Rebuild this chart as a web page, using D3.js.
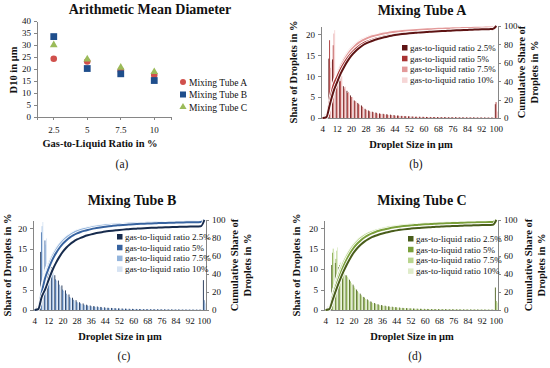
<!DOCTYPE html>
<html>
<head>
<meta charset="utf-8">
<script src="https://cdn.jsdelivr.net/npm/d3@7"></script>
<style>
  body { margin: 0; background: #fff; }
  svg { display: block; font-family: 'Liberation Serif', 'DejaVu Serif', serif; }
  .axis path, .axis line { stroke: #868686; shape-rendering: crispEdges; }
  .axis text { fill: #111; font-size: 9px; font-family: 'Liberation Serif', serif; }
</style>
</head>
<body>
<div id="chart"></div>
<script>
// ---- panel (a): arithmetic mean diameter ----
const ratios = ['2.5', '5', '7.5', '10'];
const d10TubeA = [24.3, 23.1, 19.4, 17.5];
const d10TubeB = [33.5, 20.2, 18.0, 15.2];
const d10TubeC = [30.0, 24.1, 20.6, 18.8];
const d10Ticks = [0, 5, 10, 15, 20, 25, 30, 35, 40];
const tubeNames = ['Mixing Tube A', 'Mixing Tube B', 'Mixing Tube C'];

// ---- panels (b)-(d): droplet size distributions ----
const sizeBins = [4, 6, 8, 10, 12, 14, 16, 18, 20, 22, 24, 26, 28, 30, 32, 34, 36, 38, 40, 42, 44, 46, 48, 50, 52,
  54, 56, 58, 60, 62, 64, 66, 68, 70, 72, 74, 76, 78, 80, 82, 84, 86, 88, 90, 92, 94, 96, 98, 100];
const sizeTicks = [4, 12, 20, 28, 36, 44, 52, 60, 68, 76, 84, 92, 100];
const shareTicks = [0, 5, 10, 15, 20];
const cumTicks = [0, 20, 40, 60, 80, 100];
const ratioLabels = ['gas-to-liquid ratio 2.5%', 'gas-to-liquid ratio 5%', 'gas-to-liquid ratio 7.5%', 'gas-to-liquid ratio 10%'];

const tubeA25 = [0, 0.8, 14.2, 14.0, 10.0, 9.5, 7.6, 6.5, 5.4, 4.2, 3.6, 3.0, 2.2, 1.8, 1.5, 1.3, 1.1, 1.0, 0.9, 0.8, 0.7, 0.6, 0.5, 0.45, 0.4,
  0.35, 0.3, 0.3, 0.28, 0.25, 0.25, 0.24, 0.23, 0.22, 0.21, 0.2, 0.2, 0.19, 0.18, 0.17, 0.16, 0.15, 0.15, 0.14, 0.13, 0.12, 0.12, 0.11, 3.3];
const tubeA5 = [0, 0.8, 18.6, 17.4, 9.0, 8.8, 7.0, 6.0, 5.0, 4.0, 3.3, 2.7, 2.0, 1.6, 1.4, 1.2, 1.0, 0.9, 0.8, 0.7, 0.6, 0.55, 0.5, 0.42, 0.38,
  0.33, 0.3, 0.28, 0.26, 0.24, 0.22, 0.21, 0.2, 0.19, 0.18, 0.17, 0.16, 0.15, 0.14, 0.13, 0.12, 0.12, 0.11, 0.1, 0.1, 0.1, 0.09, 0.09, 3.8];
const tubeA75 = [0, 1.0, 12.0, 20.2, 11.5, 10.3, 7.4, 6.2, 5.0, 4.0, 3.2, 2.5, 1.9, 1.5, 1.2, 1.0, 0.9, 0.8, 0.7, 0.6, 0.5, 0.45, 0.4, 0.36, 0.32,
  0.28, 0.25, 0.23, 0.21, 0.2, 0.18, 0.17, 0.16, 0.15, 0.14, 0.13, 0.12, 0.11, 0.1, 0.1, 0.09, 0.09, 0.08, 0.08, 0.07, 0.07, 0.06, 0.06, 1.6];
const tubeA10 = [0, 1.2, 13.5, 21.0, 12.0, 10.0, 7.5, 6.0, 4.8, 3.8, 3.0, 2.4, 1.8, 1.4, 1.1, 0.95, 0.85, 0.75, 0.65, 0.55, 0.48, 0.42, 0.38, 0.34, 0.3,
  0.27, 0.24, 0.22, 0.2, 0.18, 0.17, 0.16, 0.15, 0.14, 0.13, 0.12, 0.11, 0.1, 0.1, 0.09, 0.09, 0.08, 0.08, 0.07, 0.07, 0.06, 0.06, 0.05, 1.4];

const tubeB25 = [0, 0.8, 14.2, 9.0, 11.0, 10.5, 8.5, 7.2, 6.0, 4.8, 3.8, 3.0, 2.4, 1.9, 1.6, 1.3, 1.1, 0.95, 0.85, 0.75, 0.65, 0.55, 0.5, 0.45, 0.4,
  0.36, 0.33, 0.3, 0.28, 0.26, 0.24, 0.22, 0.2, 0.19, 0.18, 0.17, 0.16, 0.15, 0.14, 0.13, 0.12, 0.12, 0.11, 0.1, 0.1, 0.1, 0.09, 0.09, 7.3];
const tubeB5 = [0, 1.0, 19.0, 17.0, 11.0, 9.5, 7.5, 6.2, 5.0, 4.0, 3.2, 2.5, 2.0, 1.6, 1.3, 1.1, 0.95, 0.85, 0.75, 0.65, 0.55, 0.5, 0.45, 0.4, 0.36,
  0.32, 0.29, 0.26, 0.24, 0.22, 0.2, 0.19, 0.18, 0.17, 0.16, 0.15, 0.14, 0.13, 0.12, 0.11, 0.1, 0.1, 0.09, 0.09, 0.08, 0.08, 0.07, 0.07, 2.4];
const tubeB75 = [0, 1.2, 20.5, 16.0, 11.5, 9.5, 7.2, 5.8, 4.7, 3.7, 2.9, 2.3, 1.8, 1.4, 1.15, 0.95, 0.8, 0.7, 0.6, 0.52, 0.46, 0.4, 0.36, 0.32, 0.28,
  0.25, 0.23, 0.21, 0.19, 0.17, 0.16, 0.15, 0.14, 0.13, 0.12, 0.11, 0.1, 0.1, 0.09, 0.09, 0.08, 0.08, 0.07, 0.07, 0.06, 0.06, 0.05, 0.05, 1.8];
const tubeB10 = [0, 1.4, 21.5, 17.5, 11.0, 9.0, 7.0, 5.6, 4.5, 3.5, 2.8, 2.2, 1.7, 1.35, 1.1, 0.9, 0.75, 0.65, 0.56, 0.48, 0.42, 0.37, 0.33, 0.29, 0.26,
  0.23, 0.21, 0.19, 0.17, 0.16, 0.15, 0.14, 0.13, 0.12, 0.11, 0.1, 0.1, 0.09, 0.09, 0.08, 0.08, 0.07, 0.07, 0.06, 0.06, 0.05, 0.05, 0.05, 1.5];

const tubeC25 = [0, 0.8, 11.0, 11.5, 10.5, 9.5, 8.5, 7.4, 6.2, 5.0, 4.0, 3.2, 2.6, 2.1, 1.7, 1.4, 1.2, 1.05, 0.9, 0.8, 0.7, 0.6, 0.52, 0.46, 0.4,
  0.36, 0.32, 0.3, 0.28, 0.26, 0.24, 0.22, 0.21, 0.2, 0.19, 0.18, 0.17, 0.16, 0.15, 0.14, 0.13, 0.12, 0.12, 0.11, 0.1, 0.1, 0.09, 0.09, 5.5];
const tubeC5 = [0, 1.0, 14.0, 12.5, 11.0, 9.8, 8.4, 7.0, 5.8, 4.6, 3.7, 3.0, 2.4, 1.9, 1.55, 1.3, 1.1, 0.95, 0.82, 0.72, 0.62, 0.54, 0.47, 0.41, 0.36,
  0.32, 0.29, 0.27, 0.25, 0.23, 0.21, 0.2, 0.19, 0.18, 0.17, 0.16, 0.15, 0.14, 0.13, 0.12, 0.11, 0.11, 0.1, 0.1, 0.09, 0.09, 0.08, 0.08, 2.2];
const tubeC75 = [0, 1.2, 15.0, 14.5, 11.5, 9.6, 8.0, 6.6, 5.4, 4.3, 3.4, 2.7, 2.1, 1.7, 1.4, 1.15, 0.98, 0.85, 0.74, 0.64, 0.56, 0.48, 0.42, 0.37, 0.33,
  0.29, 0.26, 0.24, 0.22, 0.2, 0.19, 0.18, 0.17, 0.16, 0.15, 0.14, 0.13, 0.12, 0.11, 0.1, 0.1, 0.09, 0.09, 0.08, 0.08, 0.07, 0.07, 0.06, 1.9];
const tubeC10 = [0, 1.4, 14.2, 15.3, 11.8, 9.5, 7.8, 6.4, 5.2, 4.1, 3.2, 2.5, 2.0, 1.6, 1.3, 1.1, 0.92, 0.8, 0.7, 0.6, 0.52, 0.45, 0.4, 0.35, 0.31,
  0.27, 0.24, 0.22, 0.2, 0.19, 0.18, 0.17, 0.16, 0.15, 0.14, 0.13, 0.12, 0.11, 0.1, 0.1, 0.09, 0.09, 0.08, 0.08, 0.07, 0.07, 0.06, 0.06, 1.7];

const W = 550;
const H = 368;
const svg = d3.select('#chart').append('svg').attr('width', W).attr('height', H);

function addText(g, x, y, txt, size, opts = {}) {
  const t = g.append('text')
    .attr('x', x).attr('y', y)
    .attr('text-anchor', opts.anchor || 'middle')
    .attr('font-size', size)
    .attr('fill', '#111')
    .text(txt);
  if (opts.bold) t.attr('font-weight', 'bold');
  if (opts.rotate) t.attr('transform', `rotate(-90,${x},${y})`);
  return t;
}

function drawMeanPanel() {
  const g = svg.append('g');
  const x = d3.scaleBand().domain(ratios).range([37, 171]);
  const y = d3.scaleLinear().domain([0, 40]).range([117, 21]);

  g.append('g').attr('class', 'axis').attr('transform', 'translate(37,0)')
    .call(d3.axisLeft(y).tickValues(d10Ticks).tickSize(3).tickSizeOuter(0));
  g.append('g').attr('class', 'axis').attr('transform', 'translate(0,117)')
    .call(d3.axisBottom(x).tickSize(3).tickSizeOuter(3).tickPadding(7));

  const cx = (i) => x(ratios[i]) + x.bandwidth() / 2;
  g.append('g').selectAll('circle').data(d10TubeA).enter().append('circle')
    .attr('cx', (d, i) => cx(i)).attr('cy', (d) => y(d)).attr('r', 3.3).attr('fill', '#d0504c');
  g.append('g').selectAll('rect').data(d10TubeB).enter().append('rect')
    .attr('x', (d, i) => cx(i) - 3.4).attr('y', (d) => y(d) - 3.4)
    .attr('width', 6.8).attr('height', 6.8).attr('fill', '#1f4e8c');
  const tri = d3.symbol().type(d3.symbolTriangle).size(26);
  g.append('g').selectAll('path').data(d10TubeC).enter().append('path')
    .attr('d', tri).attr('transform', (d, i) => `translate(${cx(i)},${y(d)})`).attr('fill', '#9bbb59');

  addText(g, 150, 14, 'Arithmetic Mean Diameter', 14, { bold: true });
  addText(g, 17, 70, 'D10 in μm', 10.5, { bold: true, rotate: true });
  addText(g, 100, 147, 'Gas-to-Liquid Ratio in %', 10.5, { bold: true });
  addText(g, 122, 168, '(a)', 11.5);

  // legend
  const leg = g.append('g').attr('transform', 'translate(183,82)');
  const rows = leg.selectAll('g').data(tubeNames).enter().append('g')
    .attr('transform', (d, i) => `translate(0,${i * 12.5})`);
  rows.each(function (d, i) {
    const r = d3.select(this);
    if (i === 0) r.append('circle').attr('r', 3).attr('fill', '#d0504c');
    if (i === 1) r.append('rect').attr('x', -3).attr('y', -3).attr('width', 6).attr('height', 6).attr('fill', '#1f4e8c');
    if (i === 2) r.append('path').attr('d', d3.symbol().type(d3.symbolTriangle).size(22)).attr('fill', '#9bbb59');
    addText(r, 6, 3.5, d, 9.5, { anchor: 'start' });
  });
}

function drawHistPanel(p) {
  const g = svg.append('g').attr('transform', `translate(${p.ox},${p.oy})`);
  const x = d3.scaleBand().domain(sizeBins).range([p.x0, p.x1]).paddingInner(0.18).paddingOuter(0.05);
  const sub = d3.scaleBand().domain([0, 1, 2, 3]).range([0, x.bandwidth()]);
  const yL = d3.scaleLinear().domain([0, 22]).range([p.yb, p.yt]);
  const yR = d3.scaleLinear().domain([0, 100]).range([p.yb, p.yt]);

  // bars
  p.series.forEach((vals, si) => {
    g.append('g').selectAll('rect').data(vals).enter().append('rect')
      .attr('x', (d, i) => x(sizeBins[i]) + sub(si))
      .attr('width', sub.bandwidth() + 0.15)
      .attr('y', (d) => yL(d))
      .attr('height', (d) => p.yb - yL(d))
      .attr('fill', p.colors[si]);
  });

  // axes
  g.append('g').attr('class', 'axis').attr('transform', `translate(${p.x0},0)`)
    .call(d3.axisLeft(yL).tickValues(shareTicks).tickSize(3).tickSizeOuter(0));
  g.append('g').attr('class', 'axis').attr('transform', `translate(${p.x1},0)`)
    .call(d3.axisRight(yR).tickValues(cumTicks).tickSize(3).tickSizeOuter(0));
  g.append('g').attr('class', 'axis').attr('transform', `translate(0,${p.yb})`)
    .call(d3.axisBottom(x).tickValues(sizeTicks).tickSize(0).tickPadding(8));

  // cumulative share lines (drawn light to dark so the 2.5% line sits on top)
  const line = d3.line()
    .x((d, i) => x(sizeBins[i]) + x.bandwidth() / 2)
    .y((d) => yR(d))
    .curve(d3.curveMonotoneX);
  for (let si = p.series.length - 1; si >= 0; si--) {
    const vals = p.series[si];
    const total = d3.sum(vals);
    const cum = Array.from(d3.cumsum(vals), (v) => (v / total) * 100);
    g.append('path').datum(cum).attr('d', line)
      .attr('fill', 'none').attr('stroke', '#fff').attr('stroke-width', 3.6);
    g.append('path').datum(cum).attr('d', line)
      .attr('fill', 'none').attr('stroke', p.colors[si]).attr('stroke-width', 2);
  }

  // legend
  const leg = g.append('g').attr('transform', `translate(${p.legX},${p.legY})`);
  ratioLabels.forEach((lab, i) => {
    const r = leg.append('g').attr('transform', `translate(0,${i * 10.8})`);
    r.append('rect').attr('x', 0).attr('y', -3).attr('width', 5.5).attr('height', 5.5).attr('fill', p.colors[i]);
    addText(r, 8, 2.8, lab, 9, { anchor: 'start' });
  });

  // titles
  const ym = (p.yt + p.yb) / 2;
  addText(g, p.titleX, p.ty, p.title, 14, { bold: true });
  addText(g, p.yTitleX, ym, 'Share of Droplets in %', 10.5, { bold: true, rotate: true });
  addText(g, p.rTitleX, ym, 'Cumulative Share of', 10.5, { bold: true, rotate: true });
  addText(g, p.rTitleX + 13, ym, 'Droplets in %', 10.5, { bold: true, rotate: true });
  addText(g, p.xTitleX, p.yb + 30, 'Droplet Size in μm', 10.5, { bold: true });
  addText(g, p.tagX, p.yb + 50, p.tag, 11.5);
}

const redShades = ['#5e1414', '#a83232', '#e39a9a', '#f6d6d6'];
const blueShades = ['#172b4d', '#3763a0', '#93b4dc', '#d6e3f3'];
const greenShades = ['#495d1b', '#7aa03a', '#b9d58e', '#dfecca'];

const histPanels = [
  { title: 'Mixing Tube A', tag: '(b)', series: [tubeA25, tubeA5, tubeA75, tubeA10], colors: redShades,
    ox: 275, oy: 0, x0: 46, x1: 223, yt: 26, yb: 118, ty: 15,
    titleX: 147, yTitleX: 22, rTitleX: 250, xTitleX: 136, tagX: 141, legX: 127, legY: 48 },
  { title: 'Mixing Tube B', tag: '(c)', series: [tubeB25, tubeB5, tubeB75, tubeB10], colors: blueShades,
    ox: 0, oy: 188, x0: 33, x1: 206, yt: 32, yb: 122, ty: 17,
    titleX: 132, yTitleX: 11, rTitleX: 238, xTitleX: 120, tagX: 124, legX: 117, legY: 49 },
  { title: 'Mixing Tube C', tag: '(d)', series: [tubeC25, tubeC5, tubeC75, tubeC10], colors: greenShades,
    ox: 275, oy: 188, x0: 49, x1: 223, yt: 32, yb: 122, ty: 17,
    titleX: 147, yTitleX: 25, rTitleX: 257, xTitleX: 137, tagX: 140, legX: 133, legY: 51 },
];

drawMeanPanel();
histPanels.forEach(drawHistPanel);
</script>
</body>
</html>
